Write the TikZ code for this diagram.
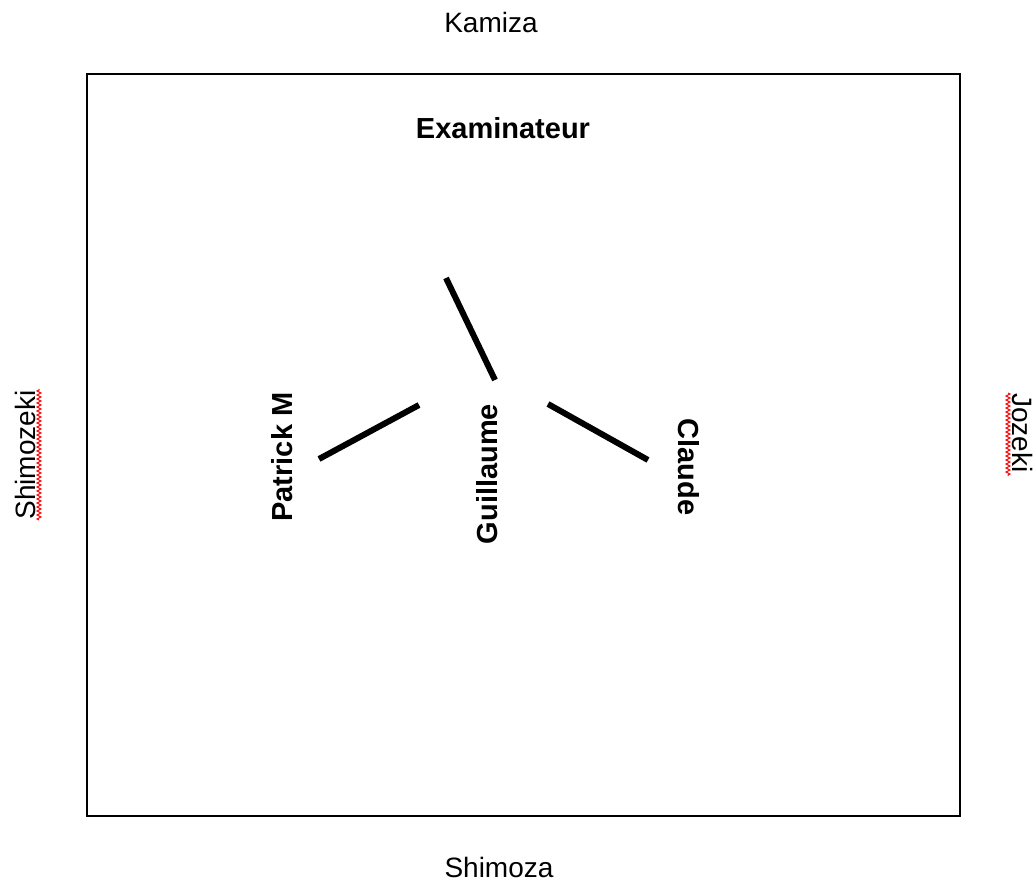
\documentclass[tikz,border=0pt]{standalone}
\usepackage{fontspec}
\setmainfont{Liberation Sans}
\usetikzlibrary{decorations.pathmorphing}
\begin{document}
\begin{tikzpicture}[x=1pt,y=-1pt,
  side/.style={inner sep=0pt,font=\fontsize{28}{30}\selectfont},
  person/.style={inner sep=0pt,font=\fontsize{29}{31}\selectfont\bfseries},
  arm/.style={line width=6pt},
  wavy/.style={red,line width=1pt,decorate,decoration={zigzag,segment length=4pt,amplitude=2pt}}]
\useasboundingbox (0,0) rectangle (1036,882);
% tatami area
\draw[line width=2pt] (87,74) rectangle (960,816);
% sides of the dojo
\node[side,anchor=base] (kamiza) at (491,33) {Kamiza};
\node[side,anchor=base] (shimoza) at (499,877) {Shimoza};
\node[side,anchor=base,rotate=90] (shimozeki) at (35,455) {Shimozeki};
\node[side,anchor=base,rotate=-90] (jozeki) at (1012,433) {Jozeki};
% spelling marks under the side names
\draw[wavy] (39,520) -- (39,389);
\draw[wavy] (1008,393) -- (1008,476);
% people
\node[person,anchor=base] (exam) at (503,139) {Examinateur};
\node[person,anchor=base,rotate=90] (patrick) at (292,457) {Patrick M};
\node[person,anchor=base,rotate=90] (guillaume) at (497,474) {Guillaume};
\node[person,anchor=base,rotate=-90] (claude) at (678,467) {Claude};
% facing directions
\coordinate (g1) at (446,278);
\coordinate (g2) at (495,380);
\coordinate (p1) at (319,459);
\coordinate (p2) at (419,405);
\coordinate (c1) at (548,404);
\coordinate (c2) at (648,460);
\draw[arm] (g1) -- (g2);
\draw[arm] (p1) -- (p2);
\draw[arm] (c1) -- (c2);
\end{tikzpicture}
\end{document}
